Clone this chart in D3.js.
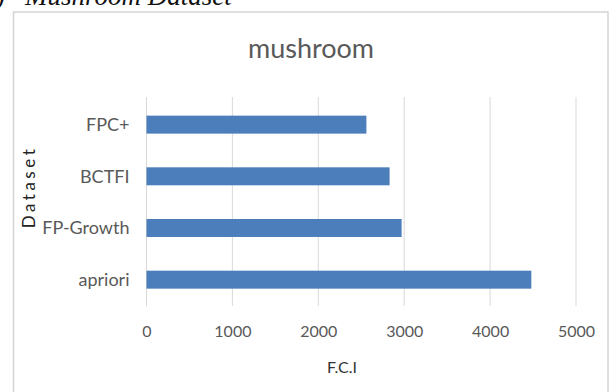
<!DOCTYPE html>
<html>
<head>
<meta charset="utf-8">
<script src="https://cdn.jsdelivr.net/npm/d3@7"></script>
<style>
  html, body { margin: 0; padding: 0; background: #ffffff; }
  svg { display: block; }
</style>
</head>
<body>
<div id="chart"></div>
<script>
// Frequent closed itemsets found on the mushroom dataset, per algorithm
const categories = ["FPC+", "BCTFI", "FP-Growth", "apriori"];
const fciValues = [2560, 2830, 2970, 4480];
const xTicks = [0, 1000, 2000, 3000, 4000, 5000];

const W = 612, H = 392;
const svg = d3.select("#chart").append("svg")
  .attr("width", W).attr("height", H);

svg.append("rect").attr("width", W).attr("height", H).attr("fill", "#ffffff");

// Figure caption sitting above the chart frame
const cap = svg.append("text")
  .attr("y", 5)
  .attr("font-family", "'Liberation Serif', 'DejaVu Serif', serif")
  .attr("font-style", "italic")
  .attr("font-size", 27)
  .attr("fill", "#111");
cap.append("tspan").attr("x", 5).attr("text-anchor", "end").text("(d)");
cap.append("tspan").attr("x", 25).attr("text-anchor", "start").text("Mushroom Dataset");

// Chart frame
svg.append("rect")
  .attr("x", 13.5).attr("y", 12)
  .attr("width", 594.5).attr("height", 400)
  .attr("fill", "#ffffff")
  .attr("stroke", "#d4d4d4")
  .attr("stroke-width", 1.5);

const x = d3.scaleLinear().domain([0, 5000]).range([146.5, 576]);
const y = d3.scaleBand().domain(categories).range([98.8, 305.5])
  .paddingInner(0.652).paddingOuter(0.326);

const font = "Lato, 'Open Sans', sans-serif";

// Vertical gridlines
svg.append("g").selectAll("line").data(xTicks).join("line")
  .attr("x1", d => x(d)).attr("x2", d => x(d))
  .attr("y1", 97).attr("y2", 306)
  .attr("stroke", "#d9d9d9").attr("stroke-width", 1);

// Bars
svg.append("g").selectAll("rect").data(categories).join("rect")
  .attr("x", x(0))
  .attr("y", d => y(d))
  .attr("width", (d, i) => x(fciValues[i]) - x(0))
  .attr("height", y.bandwidth())
  .attr("fill", "#4c7ebc");

// X axis tick labels
const xAxis = svg.append("g")
  .attr("transform", "translate(0,306)")
  .call(d3.axisBottom(x).tickValues(xTicks).tickSize(0).tickPadding(0).tickFormat(d3.format("d")));
xAxis.select(".domain").remove();
xAxis.selectAll("text")
  .attr("y", 31).attr("dy", 0)
  .attr("font-family", font).attr("font-size", 16)
  .attr("fill", "#595959");

// Y axis category labels
const yAxis = svg.append("g")
  .attr("transform", "translate(146.5,0)")
  .call(d3.axisLeft(y).tickSize(0).tickPadding(17));
yAxis.select(".domain").remove();
yAxis.selectAll("text")
  .attr("dy", "0.35em")
  .attr("font-family", font).attr("font-size", 18)
  .attr("fill", "#595959");

// Chart title
svg.append("text")
  .attr("x", 311).attr("y", 57.5)
  .attr("text-anchor", "middle")
  .attr("font-family", font).attr("font-size", 27)
  .attr("fill", "#595959")
  .text("mushroom");

// Axis titles
svg.append("text")
  .attr("x", 342).attr("y", 372.5)
  .attr("text-anchor", "middle")
  .attr("font-family", font).attr("font-size", 16)
  .attr("fill", "#333")
  .text("F.C.I");

svg.append("text")
  .attr("transform", "translate(35,187) rotate(-90)")
  .attr("text-anchor", "middle")
  .attr("font-family", font).attr("font-size", 17)
  .attr("letter-spacing", 3.5)
  .attr("fill", "#222")
  .text("Dataset");
</script>
</body>
</html>
